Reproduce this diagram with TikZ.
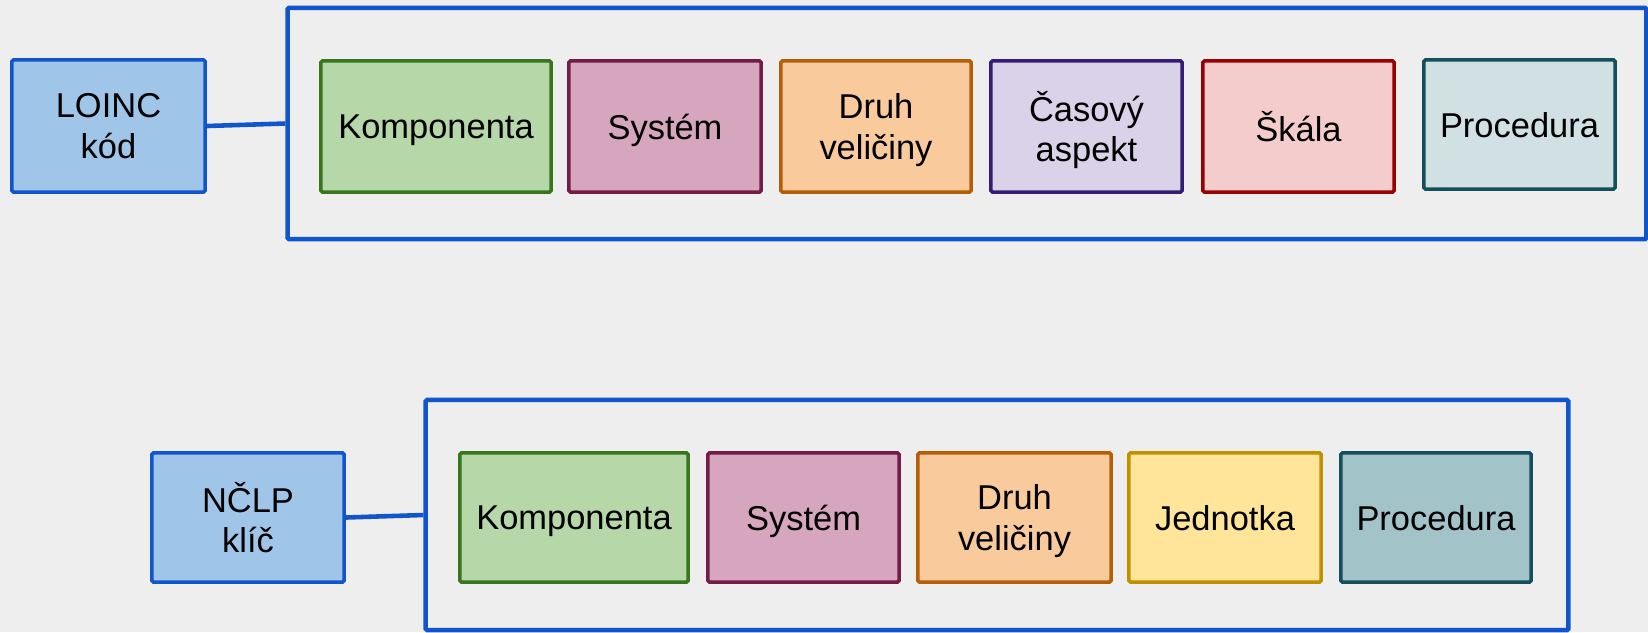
\documentclass[tikz,border=0pt]{standalone}
\usepackage{fontspec}
\setmainfont{Liberation Sans}

\definecolor{bg}{HTML}{EEEEEE}
\definecolor{modra}{HTML}{1155CC}
\definecolor{modrafill}{HTML}{9FC5E8}
\definecolor{zelena}{HTML}{38761D}
\definecolor{zelenafill}{HTML}{B6D7A8}
\definecolor{fialova}{HTML}{741B47}
\definecolor{fialovafill}{HTML}{D5A6BD}
\definecolor{oranzova}{HTML}{B45F06}
\definecolor{oranzovafill}{HTML}{F9CB9C}
\definecolor{purpur}{HTML}{351C75}
\definecolor{purpurfill}{HTML}{D9D2E9}
\definecolor{cervena}{HTML}{990000}
\definecolor{cervenafill}{HTML}{F4CCCC}
\definecolor{tyrkys}{HTML}{134F5C}
\definecolor{tyrkysfill}{HTML}{D0E0E3}
\definecolor{tyrkysfilltmavy}{HTML}{A2C4C9}
\definecolor{zluta}{HTML}{BF9000}
\definecolor{zlutafill}{HTML}{FFE599}

\tikzset{
  cast/.style={draw, line width=1pt, rounded corners=0.4pt, inner sep=0pt,
    align=center, text depth=0pt, minimum height=1.31cm},
  klic/.style={cast, draw=modra, fill=modrafill},
  ramec/.style={draw=modra, line width=1.3pt, rounded corners=0.4pt, inner sep=0pt},
  spoj/.style={draw=modra, line width=1.3pt}
}

\begin{document}
\begin{tikzpicture}[x=0.01cm,y=-0.01cm,font=\fontsize{9.8}{11.6}\selectfont]

\fill[bg] (0,0) rectangle (1648,632);
\useasboundingbox (0,0) rectangle (1648,632);

%LOINC

\begin{scope}
\node[ramec, minimum width=13.58cm, minimum height=2.31cm] (loincram) at (967,123.5) {};
\node[klic, minimum width=1.93cm, minimum height=1.32cm] (loinc) at (108.5,126) {LOINC\\kód};
\draw[spoj] (loinc.east) -- (loincram.west);

\node[cast, draw=zelena, fill=zelenafill, minimum width=2.30cm] (komp) at (436,126.5) {Komponenta};
\node[cast, draw=fialova, fill=fialovafill, minimum width=1.92cm] (sys) at (665,126.5) {Systém};
\node[cast, draw=oranzova, fill=oranzovafill, minimum width=1.90cm] (druh) at (876,126.5) {Druh\\veličiny};
\node[cast, draw=purpur, fill=purpurfill, minimum width=1.91cm] (cas) at (1086.5,126.5) {Časový\\aspekt};
\node[cast, draw=cervena, fill=cervenafill, minimum width=1.91cm] (skala) at (1298.5,126.5) {Škála};
\node[cast, draw=tyrkys, fill=tyrkysfill, minimum width=1.91cm, minimum height=1.29cm] (proc) at (1519.5,124.5) {Procedura};
\end{scope}

%NCLP

\begin{scope}
\node[ramec, minimum width=11.42cm, minimum height=2.30cm] (nclpram) at (997,515) {};
\node[klic, minimum width=1.92cm, minimum height=1.29cm] (nclp) at (248,517.5) {NČLP\\klíč};
\draw[spoj] (nclp.east) -- (nclpram.west);

\node[cast, draw=zelena, fill=zelenafill, minimum width=2.28cm, minimum height=1.29cm] (komp2) at (574,517.5) {Komponenta};
\node[cast, draw=fialova, fill=fialovafill, minimum width=1.91cm, minimum height=1.29cm] (sys2) at (803.5,517.5) {Systém};
\node[cast, draw=oranzova, fill=oranzovafill, minimum width=1.93cm, minimum height=1.29cm] (druh2) at (1014.5,517.5) {Druh\\veličiny};
\node[cast, draw=zluta, fill=zlutafill, minimum width=1.92cm, minimum height=1.29cm] (jedn) at (1225,517.5) {Jednotka};
\node[cast, draw=tyrkys, fill=tyrkysfilltmavy, minimum width=1.90cm, minimum height=1.29cm] (proc2) at (1436,517.5) {Procedura};
\end{scope}

\end{tikzpicture}
\end{document}
